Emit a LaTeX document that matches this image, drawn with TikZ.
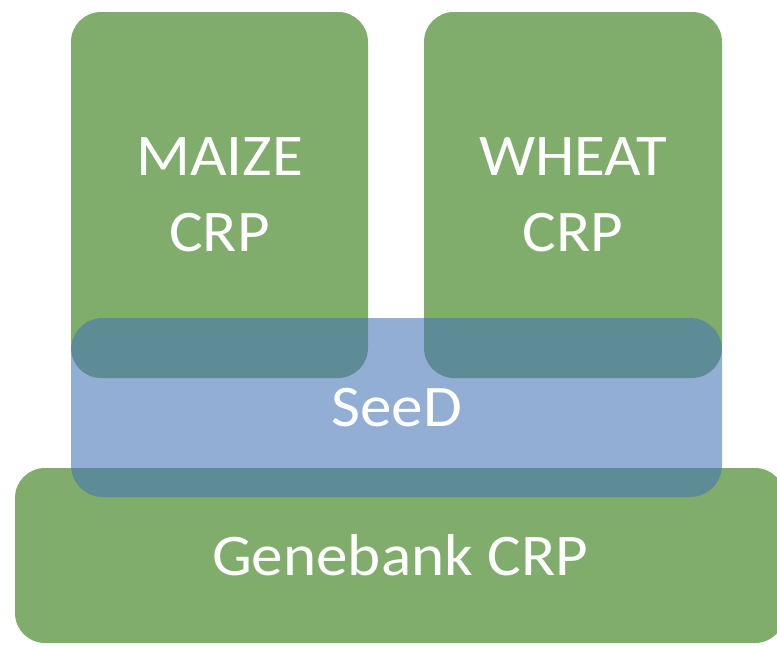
\documentclass[tikz,border=0pt]{standalone}
\usepackage{fontspec}
\setmainfont{Carlito}[FakeStretch=1.07]
\definecolor{boxgreen}{RGB}{128,172,108}
\definecolor{seedblue}{RGB}{69,117,183}
\begin{document}
\begin{tikzpicture}[x=1pt,y=-1pt,
  crpbox/.style={rectangle, rounded corners=30pt, fill=boxgreen, draw=none,
    inner sep=0pt, outer sep=0pt, text=white, align=center,
    font=\fontsize{59}{76}\selectfont},
  seedbox/.style={rectangle, rounded corners=32pt, fill=seedblue, fill opacity=0.58,
    text opacity=1, draw=none, inner sep=0pt, outer sep=0pt, text=white,
    align=center, font=\fontsize{59}{76}\selectfont}]
\useasboundingbox (0,0) rectangle (777,646);
\fill[white] (0,0) rectangle (777,646);
\node[crpbox, minimum width=770pt, minimum height=175pt] (gene) at (400,555.5) {Genebank CRP};
\node[crpbox, minimum width=297pt, minimum height=366pt] (maize) at (219.5,195) {MAIZE\\CRP};
\node[crpbox, minimum width=298pt, minimum height=366pt] (wheat) at (573,195) {WHEAT\\CRP};
\node[seedbox, minimum width=651pt, minimum height=179pt] (seed) at (396.5,407.5) {SeeD};
\end{tikzpicture}
\end{document}
